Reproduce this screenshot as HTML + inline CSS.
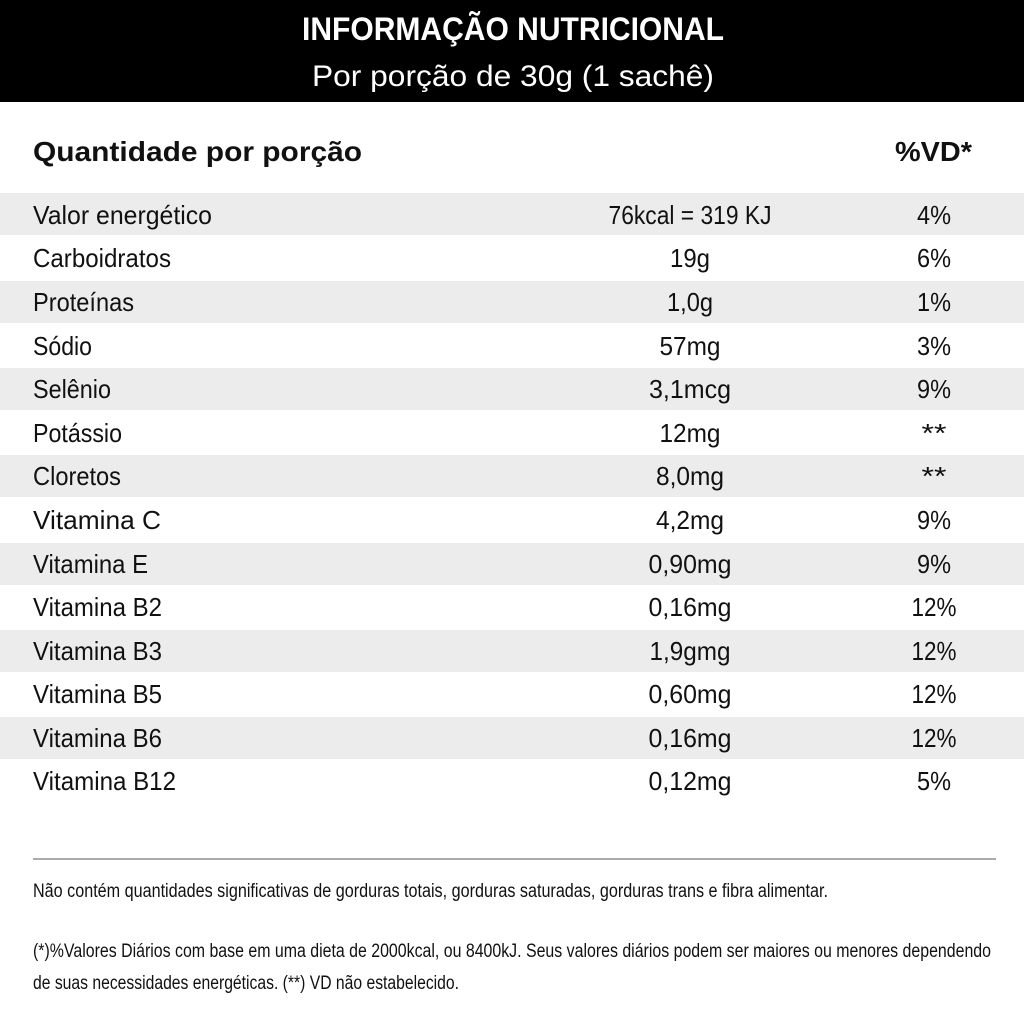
<!DOCTYPE html>
<html><head><meta charset="utf-8"><style>
html,body{margin:0;padding:0;background:#fff;width:1024px;height:1024px;overflow:hidden}
svg{display:block}
text{font-family:"Liberation Sans",sans-serif;fill:#111}
</style></head><body>
<svg width="1024" height="1024" viewBox="0 0 1024 1024" xmlns="http://www.w3.org/2000/svg">
<rect x="0" y="0" width="1024" height="102" fill="#000"/>
<text x="302" y="40" font-size="32" font-weight="bold" style="fill:#fff" textLength="422" lengthAdjust="spacingAndGlyphs">INFORMAÇÃO NUTRICIONAL</text>
<text x="312" y="86" font-size="30" style="fill:#fff" textLength="402" lengthAdjust="spacingAndGlyphs">Por porção de 30g (1 sachê)</text>
<text x="33" y="161" font-size="28" font-weight="bold" textLength="329" lengthAdjust="spacingAndGlyphs">Quantidade por porção</text>
<text x="895" y="161" font-size="28" font-weight="bold" textLength="77" lengthAdjust="spacingAndGlyphs">%VD*</text>
<g fill="#ececec">
<rect x="0" y="193" width="1024" height="42"/>
<rect x="0" y="281" width="1024" height="42"/>
<rect x="0" y="368" width="1024" height="42"/>
<rect x="0" y="455" width="1024" height="42"/>
<rect x="0" y="543" width="1024" height="42"/>
<rect x="0" y="630" width="1024" height="42"/>
<rect x="0" y="717" width="1024" height="42"/>
</g>
<g font-size="26">
<text x="33" y="224" textLength="179" lengthAdjust="spacingAndGlyphs">Valor energético</text>
<text x="33" y="267" textLength="138" lengthAdjust="spacingAndGlyphs">Carboidratos</text>
<text x="33" y="311" textLength="101" lengthAdjust="spacingAndGlyphs">Proteínas</text>
<text x="33" y="355" textLength="59" lengthAdjust="spacingAndGlyphs">Sódio</text>
<text x="33" y="398" textLength="78" lengthAdjust="spacingAndGlyphs">Selênio</text>
<text x="33" y="442" textLength="89" lengthAdjust="spacingAndGlyphs">Potássio</text>
<text x="33" y="485" textLength="88" lengthAdjust="spacingAndGlyphs">Cloretos</text>
<text x="33" y="529" textLength="128" lengthAdjust="spacingAndGlyphs">Vitamina C</text>
<text x="33" y="573" textLength="115" lengthAdjust="spacingAndGlyphs">Vitamina E</text>
<text x="33" y="616" textLength="129" lengthAdjust="spacingAndGlyphs">Vitamina B2</text>
<text x="33" y="660" textLength="129" lengthAdjust="spacingAndGlyphs">Vitamina B3</text>
<text x="33" y="703" textLength="129" lengthAdjust="spacingAndGlyphs">Vitamina B5</text>
<text x="33" y="747" textLength="129" lengthAdjust="spacingAndGlyphs">Vitamina B6</text>
<text x="33" y="790" textLength="143" lengthAdjust="spacingAndGlyphs">Vitamina B12</text>
</g>
<g font-size="26" text-anchor="middle">
<text x="690" y="224" textLength="163" lengthAdjust="spacingAndGlyphs">76kcal = 319 KJ</text>
<text x="690" y="267" textLength="40" lengthAdjust="spacingAndGlyphs">19g</text>
<text x="690" y="311" textLength="46" lengthAdjust="spacingAndGlyphs">1,0g</text>
<text x="690" y="355" textLength="61" lengthAdjust="spacingAndGlyphs">57mg</text>
<text x="690" y="398" textLength="82" lengthAdjust="spacingAndGlyphs">3,1mcg</text>
<text x="690" y="442" textLength="61" lengthAdjust="spacingAndGlyphs">12mg</text>
<text x="690" y="485" textLength="68" lengthAdjust="spacingAndGlyphs">8,0mg</text>
<text x="690" y="529" textLength="68" lengthAdjust="spacingAndGlyphs">4,2mg</text>
<text x="690" y="573" textLength="83" lengthAdjust="spacingAndGlyphs">0,90mg</text>
<text x="690" y="616" textLength="83" lengthAdjust="spacingAndGlyphs">0,16mg</text>
<text x="690" y="660" textLength="81" lengthAdjust="spacingAndGlyphs">1,9gmg</text>
<text x="690" y="703" textLength="83" lengthAdjust="spacingAndGlyphs">0,60mg</text>
<text x="690" y="747" textLength="83" lengthAdjust="spacingAndGlyphs">0,16mg</text>
<text x="690" y="790" textLength="83" lengthAdjust="spacingAndGlyphs">0,12mg</text>
</g>
<g font-size="26" text-anchor="middle">
<text x="934" y="224" textLength="34" lengthAdjust="spacingAndGlyphs">4%</text>
<text x="934" y="267" textLength="34" lengthAdjust="spacingAndGlyphs">6%</text>
<text x="934" y="311" textLength="34" lengthAdjust="spacingAndGlyphs">1%</text>
<text x="934" y="355" textLength="34" lengthAdjust="spacingAndGlyphs">3%</text>
<text x="934" y="398" textLength="34" lengthAdjust="spacingAndGlyphs">9%</text>
<text x="934" y="442" textLength="25" lengthAdjust="spacingAndGlyphs">**</text>
<text x="934" y="485" textLength="25" lengthAdjust="spacingAndGlyphs">**</text>
<text x="934" y="529" textLength="34" lengthAdjust="spacingAndGlyphs">9%</text>
<text x="934" y="573" textLength="34" lengthAdjust="spacingAndGlyphs">9%</text>
<text x="934" y="616" textLength="45" lengthAdjust="spacingAndGlyphs">12%</text>
<text x="934" y="660" textLength="45" lengthAdjust="spacingAndGlyphs">12%</text>
<text x="934" y="703" textLength="45" lengthAdjust="spacingAndGlyphs">12%</text>
<text x="934" y="747" textLength="45" lengthAdjust="spacingAndGlyphs">12%</text>
<text x="934" y="790" textLength="34" lengthAdjust="spacingAndGlyphs">5%</text>
</g>
<line x1="33" y1="859" x2="996" y2="859" stroke="#555" stroke-width="1"/>
<g font-size="19">
<text x="33" y="897" textLength="795" lengthAdjust="spacingAndGlyphs">Não contém quantidades significativas de gorduras totais, gorduras saturadas, gorduras trans e fibra alimentar.</text>
<text x="33" y="957" textLength="958" lengthAdjust="spacingAndGlyphs">(*)%Valores Diários com base em uma dieta de 2000kcal, ou 8400kJ. Seus valores diários podem ser maiores ou menores dependendo</text>
<text x="33" y="989" textLength="426" lengthAdjust="spacingAndGlyphs">de suas necessidades energéticas. (**) VD não estabelecido.</text>
</g>
</svg>
</body></html>
